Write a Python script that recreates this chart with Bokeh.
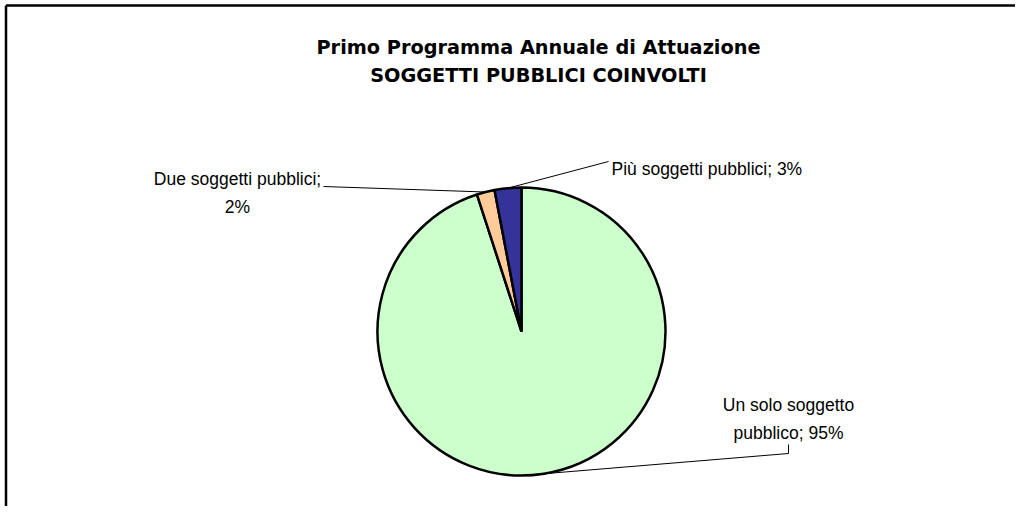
import math
from bokeh.plotting import figure
from bokeh.models import Range1d, ColumnDataSource
from bokeh.core.properties import value
from bokeh.embed import file_html
from bokeh.resources import INLINE

# ---- data ----
categories = ["Un solo soggetto pubblico", "Due soggetti pubblici", "Più soggetti pubblici"]
percentages = [95, 2, 3]
colors = ["#CCFFCC", "#FFCC99", "#333399"]
title_lines = ["Primo Programma Annuale di Attuazione", "SOGGETTI PUBBLICI COINVOLTI"]

# ---- layout (picture pixel coordinates) ----
W, H = 1015, 506
X0, Y0 = 0, 0
CX, CY, R = 521, 331, 144

p = figure(width=W, height=H, x_range=Range1d(X0, X0 + W), y_range=Range1d(-(Y0 + H), -Y0),
           output_backend="svg", toolbar_location=None, min_border=0)
p.axis.visible = False
p.grid.visible = False
p.outline_line_color = None
p.background_fill_color = "white"
p.border_fill_color = "white"

# frame lines (top and left)
FX, FY = 5.5, 5.0
p.segment(x0=[FX, FX], y0=[-FY, -FY], x1=[X0 + W, FX], y1=[-FY, -(Y0 + H)],
          line_color="black", line_width=2.5)

# pie wedges, clockwise from 12 o'clock
total = float(sum(percentages))
starts, ends, mids = [], [], []
cum = 0.0
for v in percentages:
    a0 = math.pi / 2 - 2 * math.pi * cum / total
    cum += v
    a1 = math.pi / 2 - 2 * math.pi * cum / total
    starts.append(a0)
    ends.append(a1)
    mids.append((a0 + a1) / 2)

src = ColumnDataSource(dict(start=starts, end=ends, color=colors, cat=categories))
p.wedge(x=CX, y=-CY, radius=R, start_angle="start", end_angle="end", direction="clock",
        fill_color="color", line_color="black", line_width=2.5, source=src)

edge = [(CX + R * math.cos(m), -CY + R * math.sin(m)) for m in mids]


def wrap(text, width):
    words = text.split(" ")
    lines, cur = [], ""
    for w in words:
        if cur and len(cur) + 1 + len(w) > width:
            lines.append(cur)
            cur = w
        else:
            cur = (cur + " " + w) if cur else w
    lines.append(cur)
    return lines


labels = [f"{c}; {v}%" for c, v in zip(categories, percentages)]
wrap_widths = [17, 22, 40]
label_anchor = [(788, 404, "center"), (237, 178, "center"), (611, 168, "left")]
LH = 28
lab_font = value("Liberation Sans")

for lab, ww, (lx, ly, al) in zip(labels, wrap_widths, label_anchor):
    lines = wrap(lab, ww)
    p.text(x=[lx] * len(lines), y=[-(ly + i * LH) for i in range(len(lines))], text=lines,
           text_font=lab_font, text_font_size="17.5px", text_color="black",
           text_align=al, text_baseline="alphabetic")

# leader lines
p.line(x=[788, 788, edge[0][0]], y=[-444, -453, edge[0][1]], line_color="black", line_width=1)
p.line(x=[323, edge[1][0]], y=[-186, edge[1][1]], line_color="black", line_width=1)
p.line(x=[608, edge[2][0]], y=[-161, edge[2][1]], line_color="black", line_width=1)

# title
p.text(x=[538, 538], y=[-47, -75], text=title_lines, text_font=value("DejaVu Sans"),
       text_font_style="bold", text_font_size="19.3px", text_color="black",
       text_align="center", text_baseline="alphabetic")

open("out.html", "w").write(file_html(p, INLINE))
